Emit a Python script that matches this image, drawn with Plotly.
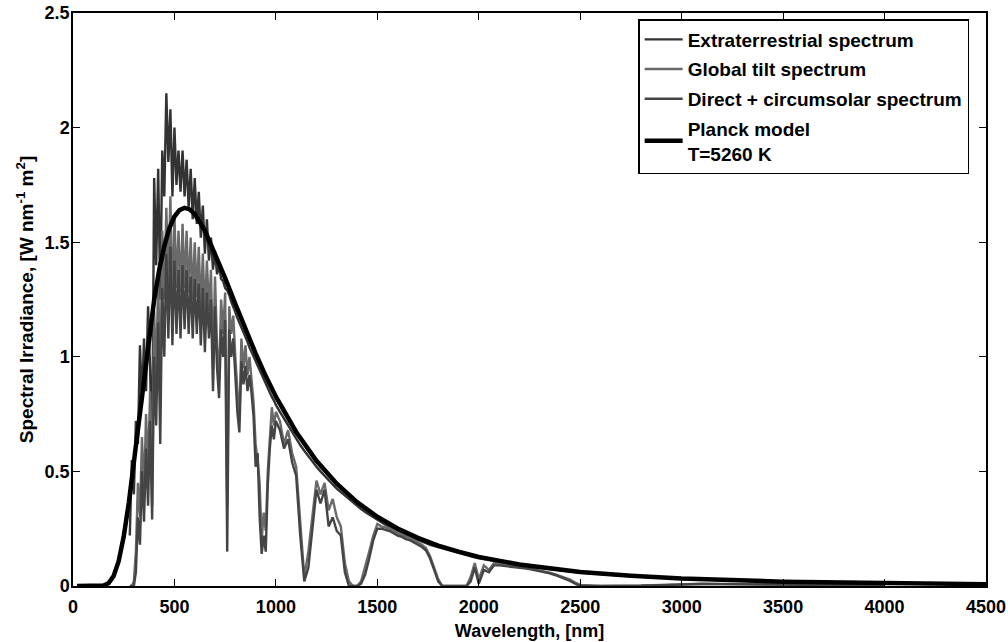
import plotly.graph_objects as go

# ---------------- data ----------------
wavelength_nm = [
    280, 290, 300, 310, 320, 330, 340, 350, 360, 370, 380, 390, 400, 410, 420, 430, 440, 450, 460, 470,
    480, 490, 500, 510, 520, 530, 540, 550, 560, 570, 580, 590, 600, 610, 620, 630, 640, 650, 660, 670,
    680, 690, 700, 710, 720, 730, 740, 750, 760, 770, 780, 790, 800, 810, 820, 830, 840, 850, 860, 870,
    880, 890, 900, 910, 920, 930, 940, 950, 960, 970, 980, 990, 1000,
    1020, 1040, 1060, 1080, 1100, 1120, 1140, 1160, 1180, 1200, 1220, 1240, 1260, 1280, 1300, 1320,
    1340, 1360, 1380, 1400, 1420, 1440, 1460, 1480, 1500, 1520, 1540, 1560, 1580, 1600, 1620, 1640,
    1660, 1680, 1700, 1720, 1740, 1760, 1780, 1800, 1820, 1840, 1860, 1880, 1900, 1920, 1940, 1960,
    1980, 2000,
    2025, 2050, 2075, 2100, 2125, 2150, 2175, 2200, 2225, 2250, 2275, 2300, 2325, 2350, 2375, 2400,
    2425, 2450, 2475, 2500,
    2600, 2700, 2800, 2900, 3000, 3100, 3200, 3300, 3400, 3500, 3600, 3700, 3800, 3900, 4000,
]

extraterrestrial = [
    0.22, 0.55, 0.40, 0.72, 0.62, 1.05, 0.80, 1.08, 0.85, 1.22, 0.95, 0.55, 1.78, 1.40, 1.82, 1.25, 1.90, 1.70, 2.15, 1.85,
    2.08, 1.70, 2.00, 1.75, 1.90, 1.72, 1.90, 1.70, 1.86, 1.65, 1.82, 1.60, 1.78, 1.58, 1.72, 1.52, 1.66, 1.45, 1.60, 1.42,
    1.52, 1.38, 1.46, 1.36, 1.40, 1.34, 1.33, 1.30, 1.29, 1.27, 1.24, 1.22, 1.195, 1.17, 1.15, 1.13, 1.105, 1.085, 1.065, 1.04,
    1.02, 1.00, 0.98, 0.96, 0.94, 0.92, 0.90, 0.88, 0.86, 0.84, 0.825, 0.81, 0.79,
    0.76, 0.73, 0.705, 0.67, 0.64, 0.615, 0.59, 0.565, 0.545, 0.52, 0.50, 0.48, 0.46, 0.443, 0.425, 0.41,
    0.393, 0.378, 0.363, 0.35, 0.336, 0.323, 0.311, 0.30, 0.288, 0.278, 0.267, 0.258, 0.248, 0.24, 0.231, 0.223,
    0.215, 0.208, 0.20, 0.194, 0.187, 0.18, 0.175, 0.168, 0.162, 0.157, 0.152, 0.147, 0.143, 0.138, 0.134, 0.13,
    0.125, 0.121,
    0.117, 0.113, 0.109, 0.105, 0.101, 0.098, 0.094, 0.090, 0.087, 0.084, 0.081, 0.078, 0.075, 0.073, 0.070, 0.068,
    0.065, 0.063, 0.061, 0.059,
    0.052, 0.046, 0.040, 0.035, 0.031, 0.028, 0.025, 0.022, 0.020, 0.018, 0.016, 0.015, 0.013, 0.012, 0.011,
]

global_tilt = [
    0.00, 0.00, 0.02, 0.15, 0.45, 0.30, 0.65, 0.40, 0.75, 0.50, 0.85, 0.35, 1.20, 0.90, 1.35, 0.80, 1.55, 1.25, 1.65, 1.30,
    1.70, 1.20, 1.62, 1.30, 1.55, 1.28, 1.58, 1.30, 1.55, 1.28, 1.52, 1.25, 1.50, 1.26, 1.48, 1.20, 1.45, 1.18, 1.42, 1.20,
    1.38, 0.95, 1.35, 1.05, 0.90, 1.25, 1.10, 1.28, 0.35, 1.22, 1.10, 1.18, 1.00, 0.85, 0.72, 1.08, 0.95, 1.05, 0.92, 1.00,
    0.90, 0.80, 0.62, 0.55, 0.45, 0.20, 0.32, 0.24, 0.50, 0.65, 0.78, 0.70, 0.76,
    0.72, 0.62, 0.68, 0.58, 0.52, 0.28, 0.04, 0.15, 0.32, 0.46, 0.40, 0.45, 0.33, 0.38, 0.30, 0.26,
    0.10, 0.02, 0.00, 0.00, 0.02, 0.08, 0.15, 0.22, 0.27, 0.26, 0.255, 0.25, 0.24, 0.23, 0.225, 0.215,
    0.21, 0.20, 0.19, 0.18, 0.165, 0.13, 0.08, 0.03, 0.00, 0.00, 0.00, 0.00, 0.00, 0.00, 0.00, 0.04,
    0.10, 0.03,
    0.09, 0.07, 0.10, 0.097, 0.093, 0.09, 0.086, 0.083, 0.08, 0.077, 0.073, 0.068, 0.064, 0.058, 0.052, 0.045,
    0.038, 0.028, 0.015, 0.005,
    0.000, 0.000, 0.002, 0.005, 0.008, 0.010, 0.009, 0.008, 0.006, 0.007, 0.006, 0.005, 0.005, 0.004, 0.004,
]

direct_circumsolar = [
    0.00, 0.00, 0.00, 0.06, 0.30, 0.18, 0.50, 0.28, 0.60, 0.35, 0.72, 0.29, 1.00, 0.70, 1.15, 0.62, 1.30, 1.00, 1.45, 1.08,
    1.48, 1.05, 1.42, 1.10, 1.38, 1.08, 1.40, 1.12, 1.38, 1.10, 1.35, 1.08, 1.34, 1.10, 1.32, 1.05, 1.30, 1.02, 1.28, 1.08,
    1.25, 0.85, 1.22, 0.95, 0.82, 1.12, 1.00, 1.16, 0.15, 1.12, 1.00, 1.08, 0.92, 0.76, 0.67, 0.98, 0.88, 0.96, 0.85, 0.92,
    0.84, 0.74, 0.52, 0.58, 0.30, 0.14, 0.22, 0.15, 0.44, 0.60, 0.70, 0.64, 0.72,
    0.68, 0.60, 0.64, 0.54, 0.48, 0.22, 0.02, 0.08, 0.25, 0.42, 0.36, 0.42, 0.26, 0.30, 0.24, 0.22,
    0.06, 0.00, 0.00, 0.00, 0.01, 0.05, 0.12, 0.20, 0.25, 0.25, 0.245, 0.24, 0.23, 0.22, 0.215, 0.205,
    0.20, 0.19, 0.18, 0.17, 0.155, 0.12, 0.07, 0.02, 0.00, 0.00, 0.00, 0.00, 0.00, 0.00, 0.00, 0.02,
    0.08, 0.01,
    0.07, 0.06, 0.09, 0.09, 0.088, 0.085, 0.082, 0.08, 0.077, 0.074, 0.07, 0.065, 0.06, 0.055, 0.048, 0.04,
    0.032, 0.022, 0.01, 0.00,
    0.000, 0.000, 0.001, 0.004, 0.007, 0.009, 0.008, 0.007, 0.005, 0.006, 0.005, 0.004, 0.004, 0.003, 0.003,
]

planck_wl = [20, 100, 150, 175, 200, 225, 250, 275, 300, 325, 350, 375, 400, 425, 450, 475, 500, 525, 550,
             575, 600, 650, 700, 750, 800, 850, 900, 950, 1000, 1100, 1200, 1300, 1400, 1500, 1600, 1700,
             1800, 1900, 2000, 2200, 2500, 2750, 3000, 3500, 4000, 4500]
planck_val = [0.0, 0.0, 0.002, 0.012, 0.043, 0.108, 0.216, 0.363, 0.538, 0.727, 0.916, 1.092, 1.249, 1.380,
              1.483, 1.561, 1.612, 1.640, 1.650, 1.643, 1.623, 1.551, 1.453, 1.343, 1.231, 1.120, 1.015,
              0.916, 0.826, 0.672, 0.546, 0.446, 0.366, 0.302, 0.251, 0.210, 0.176, 0.150, 0.127, 0.094,
              0.061, 0.045, 0.033, 0.019, 0.012, 0.008]

x_ticks = [0, 500, 1000, 1500, 2000, 2500, 3000, 3500, 4000, 4500]
y_ticks = [0, 0.5, 1, 1.5, 2, 2.5]
y_tick_labels = ["0", "0.5", "1", "1.5", "2", "2.5"]

# ---------------- figure ----------------
FONT = "Liberation Sans, Arial, Helvetica, sans-serif"

fig = go.Figure()
fig.add_trace(go.Scatter(x=wavelength_nm, y=extraterrestrial, mode="lines",
                         name="Extraterrestrial spectrum", legendgroup="a",
                         line=dict(color="#333333", width=2.4)))
fig.add_trace(go.Scatter(x=wavelength_nm, y=global_tilt, mode="lines",
                         name="Global tilt spectrum", legendgroup="b",
                         line=dict(color="#6a6a6a", width=2.4)))
fig.add_trace(go.Scatter(x=wavelength_nm, y=direct_circumsolar, mode="lines",
                         name="Direct + circumsolar spectrum", legendgroup="c",
                         line=dict(color="#444444", width=2.4)))
fig.add_trace(go.Scatter(x=planck_wl, y=planck_val, mode="lines",
                         name="Planck model<br>T=5260 K", legendgroup="d",
                         line=dict(color="#000000", width=4.5)))

axis_common = dict(
    showgrid=False, zeroline=False, showline=True, linecolor="black", linewidth=1.5,
    mirror="ticks", ticks="inside", ticklen=7, tickwidth=1.3, tickcolor="black",
    automargin=False, ticklabeloverflow="allow",
    tickfont=dict(family=FONT, size=18, color="black", weight="bold"),
)

fig.update_layout(
    width=1008, height=642,
    margin=dict(l=73, r=22, t=13, b=56),
    paper_bgcolor="white", plot_bgcolor="white",
    showlegend=True,
    legend=dict(
        x=0.619, y=0.9895, xanchor="left", yanchor="top",
        bgcolor="white", bordercolor="black", borderwidth=1.5,
        font=dict(family=FONT, size=19, color="black", weight="bold"),
        tracegroupgap=2, traceorder="grouped", itemwidth=38,
    ),
    xaxis=dict(range=[0, 4500], tickvals=x_ticks, ticklabelstandoff=4,
               title=dict(text="Wavelength, [nm]", standoff=8,
                          font=dict(family=FONT, size=18, color="black", weight="bold")),
               **axis_common),
    yaxis=dict(range=[0, 2.5], tickvals=y_ticks, ticktext=y_tick_labels, ticklabelstandoff=-2,
               title=dict(text="Spectral Irradiance, [W nm<sup>-1</sup> m<sup>2</sup>]", standoff=6,
                          font=dict(family=FONT, size=19, color="black", weight="bold")),
               **axis_common),
)

fig.write_html("out.html", config={"displayModeBar": False},
               post_script="document.body.style.margin='0';")
